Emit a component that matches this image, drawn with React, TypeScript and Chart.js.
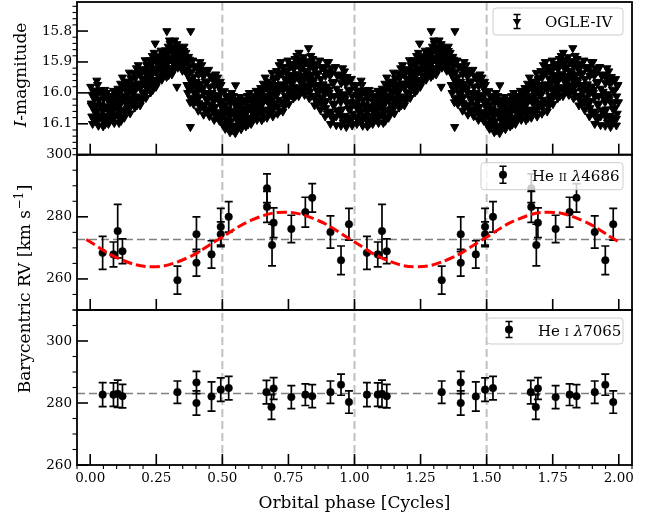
import React, { useEffect, useRef } from 'react';
import { Chart, registerables } from 'chart.js';

Chart.register(...registerables);

const FONT = '"DejaVu Serif", serif';

// ---------- axes / ticks ----------
const xMajorTicks = [0, 0.25, 0.5, 0.75, 1.0, 1.25, 1.5, 1.75, 2.0];
const magMajorTicks = [15.8, 15.9, 16.0, 16.1];
const rvMajorTicks = [260, 280, 300];
const phaseMarkers = [0.5, 1.0, 1.5];
const heiiGamma = 272.7;
const heiGamma = 283.1;

// ---------- OGLE-IV light curve (one cycle: phase, I mag) ----------
const ogleCycle: [number, number][] = [
  [.002,15.980],[.012,15.992],[.007,16.006],[.016,16.020],[.004,16.034],[.010,16.047],[.018,16.062],[.006,16.076],[.014,16.088],[.009,16.100],
  [.028,15.974],[.037,15.991],[.023,16.008],[.032,16.023],[.039,16.040],[.026,16.057],[.034,16.072],[.021,16.090],[.031,16.106],
  [.055,15.990],[.045,16.004],[.050,16.020],[.041,16.038],[.058,16.043],[.048,16.060],[.053,16.074],[.043,16.082],[.057,16.100],[.049,16.108],
  [.062,16.000],[.072,16.010],[.067,16.022],[.076,16.033],[.064,16.045],[.070,16.056],[.078,16.068],[.066,16.080],[.074,16.090],[.069,16.100],
  [.088,15.993],[.097,16.007],[.083,16.020],[.092,16.032],[.099,16.045],[.086,16.058],[.094,16.070],[.081,16.085],[.091,16.097],
  [.115,15.970],[.105,15.986],[.110,16.003],[.101,16.022],[.118,16.027],[.108,16.045],[.113,16.061],[.103,16.070],[.117,16.090],[.109,16.097],
  [.122,15.950],[.132,15.963],[.127,15.979],[.136,15.993],[.124,16.009],[.130,16.023],[.138,16.038],[.126,16.054],[.134,16.067],[.129,16.080],
  [.148,15.934],[.157,15.951],[.143,15.968],[.152,15.983],[.159,16.000],[.146,16.017],[.154,16.032],[.141,16.050],[.151,16.066],
  [.175,15.920],[.165,15.936],[.170,15.953],[.161,15.972],[.178,15.977],[.168,15.995],[.173,16.011],[.163,16.020],[.177,16.040],[.169,16.047],
  [.182,15.910],[.192,15.923],[.187,15.939],[.196,15.953],[.184,15.969],[.190,15.983],[.198,15.998],[.186,16.014],[.194,16.027],[.189,16.040],
  [.208,15.894],[.217,15.910],[.203,15.925],[.212,15.939],[.219,15.955],[.206,15.971],[.214,15.985],[.201,16.002],[.211,16.016],
  [.235,15.880],[.225,15.894],[.230,15.910],[.221,15.928],[.238,15.933],[.228,15.950],[.233,15.964],[.223,15.972],[.237,15.990],[.229,15.998],
  [.242,15.870],[.252,15.881],[.247,15.894],[.256,15.906],[.244,15.920],[.250,15.932],[.258,15.945],[.246,15.958],[.254,15.969],[.249,15.980],
  [.268,15.863],[.277,15.875],[.263,15.887],[.272,15.898],[.279,15.910],[.266,15.922],[.274,15.933],[.261,15.946],[.271,15.957],
  [.295,15.850],[.285,15.862],[.290,15.875],[.281,15.890],[.298,15.894],[.288,15.908],[.293,15.920],[.283,15.927],[.297,15.942],[.289,15.948],
  [.302,15.840],[.312,15.850],[.307,15.862],[.316,15.873],[.304,15.885],[.310,15.896],[.318,15.908],[.306,15.920],[.314,15.930],[.309,15.940],
  [.328,15.842],[.337,15.852],[.323,15.862],[.332,15.870],[.339,15.880],[.326,15.890],[.334,15.898],[.321,15.909],[.331,15.918],
  [.355,15.850],[.345,15.860],[.350,15.870],[.341,15.882],[.358,15.885],[.348,15.896],[.353,15.906],[.343,15.912],[.357,15.924],[.349,15.928],
  [.362,15.870],[.372,15.883],[.367,15.899],[.376,15.913],[.364,15.929],[.370,15.943],[.378,15.958],[.366,15.974],[.374,15.987],[.369,16.000],
  [.388,15.895],[.397,15.913],[.383,15.931],[.392,15.947],[.399,15.965],[.386,15.983],[.394,16.000],[.381,16.019],[.391,16.036],
  [.415,15.900],[.405,15.919],[.410,15.940],[.401,15.964],[.418,15.970],[.408,15.993],[.413,16.012],[.403,16.023],[.417,16.047],[.409,16.057],
  [.422,15.910],[.432,15.926],[.427,15.945],[.436,15.963],[.424,15.982],[.430,16.000],[.438,16.019],[.426,16.038],[.434,16.054],[.429,16.070],
  [.448,15.925],[.457,15.944],[.443,15.963],[.452,15.981],[.459,16.000],[.446,16.019],[.454,16.037],[.441,16.058],[.451,16.075],
  [.475,15.940],[.465,15.958],[.470,15.978],[.461,16.000],[.478,16.006],[.468,16.027],[.473,16.045],[.463,16.056],[.477,16.078],[.469,16.087],
  [.482,15.950],[.492,15.964],[.487,15.981],[.496,15.996],[.484,16.013],[.490,16.028],[.498,16.045],[.486,16.062],[.494,16.076],[.489,16.090],
  [.508,15.994],[.517,16.010],[.503,16.025],[.512,16.039],[.519,16.055],[.506,16.071],[.514,16.085],[.501,16.102],[.511,16.116],
  [.535,16.000],[.525,16.016],[.530,16.033],[.521,16.052],[.538,16.057],[.528,16.075],[.533,16.091],[.523,16.100],[.537,16.120],[.529,16.127],
  [.542,16.010],[.552,16.022],[.547,16.036],[.556,16.050],[.544,16.064],[.550,16.077],[.558,16.092],[.546,16.106],[.554,16.118],[.549,16.130],
  [.568,16.013],[.577,16.027],[.563,16.040],[.572,16.052],[.579,16.065],[.566,16.078],[.574,16.090],[.561,16.105],[.571,16.117],
  [.595,16.010],[.585,16.022],[.590,16.035],[.581,16.050],[.598,16.054],[.588,16.068],[.593,16.080],[.583,16.087],[.597,16.102],[.589,16.108],
  [.602,16.000],[.612,16.010],[.607,16.022],[.616,16.033],[.604,16.045],[.610,16.056],[.618,16.068],[.606,16.080],[.614,16.090],[.609,16.100],
  [.628,15.993],[.637,16.005],[.623,16.017],[.632,16.028],[.639,16.040],[.626,16.052],[.634,16.063],[.621,16.076],[.631,16.087],
  [.655,15.970],[.645,15.984],[.650,16.000],[.641,16.018],[.658,16.023],[.648,16.040],[.653,16.054],[.643,16.062],[.657,16.080],[.649,16.088],
  [.662,15.950],[.672,15.963],[.667,15.979],[.676,15.993],[.664,16.009],[.670,16.023],[.678,16.038],[.666,16.054],[.674,16.067],[.669,16.080],
  [.688,15.935],[.697,15.953],[.683,15.971],[.692,15.987],[.699,16.005],[.686,16.023],[.694,16.040],[.681,16.059],[.691,16.076],
  [.715,15.910],[.705,15.929],[.710,15.950],[.701,15.974],[.718,15.980],[.708,16.003],[.713,16.022],[.703,16.033],[.717,16.057],[.709,16.067],
  [.722,15.900],[.732,15.916],[.727,15.935],[.736,15.953],[.724,15.972],[.730,15.990],[.738,16.009],[.726,16.028],[.734,16.044],[.729,16.060],
  [.748,15.895],[.757,15.913],[.743,15.931],[.752,15.947],[.759,15.965],[.746,15.983],[.754,16.000],[.741,16.019],[.751,16.036],
  [.775,15.890],[.765,15.906],[.770,15.923],[.761,15.942],[.778,15.947],[.768,15.965],[.773,15.981],[.763,15.990],[.777,16.010],[.769,16.017],
  [.782,15.880],[.792,15.893],[.787,15.909],[.796,15.923],[.784,15.939],[.790,15.953],[.798,15.968],[.786,15.984],[.794,15.997],[.789,16.010],
  [.808,15.884],[.817,15.900],[.803,15.915],[.812,15.929],[.819,15.945],[.806,15.961],[.814,15.975],[.801,15.992],[.811,16.006],
  [.835,15.880],[.825,15.897],[.830,15.915],[.821,15.936],[.838,15.942],[.828,15.961],[.833,15.978],[.823,15.988],[.837,16.009],[.829,16.017],
  [.842,15.890],[.852,15.905],[.847,15.923],[.856,15.940],[.844,15.958],[.850,15.974],[.858,15.992],[.846,16.010],[.854,16.025],[.849,16.040],
  [.868,15.895],[.877,15.916],[.863,15.936],[.872,15.955],[.879,15.975],[.866,15.995],[.874,16.014],[.861,16.036],[.871,16.055],
  [.895,15.900],[.885,15.922],[.890,15.945],[.881,15.972],[.898,15.979],[.888,16.004],[.893,16.026],[.883,16.039],[.897,16.066],[.889,16.076],
  [.902,15.900],[.912,15.920],[.907,15.944],[.916,15.966],[.904,15.990],[.910,16.012],[.918,16.036],[.906,16.060],[.914,16.080],[.909,16.100],
  [.928,15.916],[.937,15.940],[.923,15.964],[.932,15.986],[.939,16.010],[.926,16.034],[.934,16.056],[.921,16.082],[.931,16.104],
  [.955,15.920],[.945,15.943],[.950,15.968],[.941,15.996],[.958,16.004],[.948,16.030],[.953,16.053],[.943,16.066],[.957,16.095],[.949,16.106],
  [.962,15.930],[.972,15.948],[.967,15.970],[.976,15.989],[.964,16.011],[.970,16.031],[.978,16.052],[.966,16.074],[.974,16.092],[.969,16.110],
  [.988,15.955],[.997,15.974],[.983,15.993],[.992,16.011],[.999,16.030],[.986,16.049],[.994,16.067],[.981,16.088],[.991,16.105],
  [.025,15.960],[.246,15.840],[.290,15.800],[.300,15.830],[.320,15.830],[.340,15.860],[.328,15.980],
  [.380,15.800],[.379,16.110],[.378,16.030],[.550,15.975],[.790,15.870],[.826,15.855],
];

// additional OGLE-IV epochs that fill the dense band
const ogleCycleFill: [number, number][] = [
  [.015,16.000],[.004,16.040],[.011,16.080],[.035,15.994],[.024,16.040],[.031,16.086],
  [.055,16.010],[.044,16.050],[.051,16.090],[.075,16.017],[.064,16.050],[.071,16.083],
  [.095,16.009],[.084,16.045],[.091,16.081],[.115,15.992],[.104,16.035],[.111,16.078],
  [.135,15.972],[.124,16.015],[.131,16.058],[.155,15.954],[.144,16.000],[.151,16.046],
  [.175,15.942],[.164,15.985],[.171,16.028],[.195,15.932],[.184,15.975],[.191,16.018],
  [.215,15.912],[.204,15.955],[.211,15.998],[.235,15.900],[.224,15.940],[.231,15.980],
  [.255,15.889],[.244,15.925],[.251,15.961],[.275,15.877],[.264,15.910],[.271,15.943],
  [.295,15.867],[.284,15.900],[.291,15.933],[.315,15.857],[.304,15.890],[.311,15.923],
  [.335,15.854],[.324,15.880],[.331,15.906],[.355,15.864],[.344,15.890],[.351,15.916],
  [.375,15.892],[.364,15.935],[.371,15.978],[.395,15.916],[.384,15.965],[.391,16.015],
  [.415,15.927],[.404,15.980],[.411,16.033],[.435,15.937],[.424,15.990],[.431,16.043],
  [.455,15.947],[.444,16.000],[.451,16.053],[.475,15.966],[.464,16.015],[.471,16.065],
  [.495,15.974],[.484,16.020],[.491,16.066],[.515,16.012],[.504,16.055],[.511,16.098],
  [.535,16.022],[.524,16.065],[.531,16.108],[.555,16.030],[.544,16.070],[.551,16.110],
  [.575,16.029],[.564,16.065],[.571,16.101],[.595,16.027],[.584,16.060],[.591,16.093],
  [.615,16.017],[.604,16.050],[.611,16.083],[.635,16.007],[.624,16.040],[.631,16.073],
  [.655,15.990],[.644,16.030],[.651,16.070],[.675,15.972],[.664,16.015],[.671,16.058],
  [.695,15.956],[.684,16.005],[.691,16.055],[.715,15.937],[.704,15.990],[.711,16.043],
  [.735,15.927],[.724,15.980],[.731,16.033],[.755,15.916],[.744,15.965],[.751,16.015],
  [.775,15.912],[.764,15.955],[.771,15.998],[.795,15.902],[.784,15.945],[.791,15.988],
  [.815,15.902],[.804,15.945],[.811,15.988],[.835,15.904],[.824,15.950],[.831,15.996],
  [.855,15.916],[.844,15.965],[.851,16.015],[.875,15.919],[.864,15.975],[.871,16.031],
  [.895,15.931],[.884,15.990],[.891,16.049],[.915,15.934],[.904,16.000],[.911,16.066],
  [.935,15.944],[.924,16.010],[.931,16.076],[.955,15.952],[.944,16.015],[.951,16.078],
  [.975,15.961],[.964,16.020],[.971,16.079],[.995,15.977],[.984,16.030],[.991,16.083],
];

// ---------- He II 4686 RVs (one cycle) ----------
const heiiPhase = [0.047,0.088,0.104,0.122,0.330,0.402,0.402,0.459,0.494,0.494,0.524,0.669,0.669,0.688,0.694,0.761,0.814,0.840,0.909,0.949,0.979];
const heiiRV    = [268.4,267.9,275.4,268.9,259.6,274.4,265.2,267.9,276.8,274.4,280.0,289.2,283.2,270.9,278.1,276.1,281.5,286.1,275.1,266.0,277.6];
const heiiErr   = [5.3,4.0,8.6,4.0,4.5,5.6,4.3,4.4,5.9,4.0,4.9,4.6,5.0,6.7,4.8,4.4,4.8,4.6,5.2,4.6,5.1];

// ---------- He I 7065 RVs (one cycle) ----------
const heiPhase = [0.047,0.088,0.104,0.122,0.330,0.402,0.402,0.459,0.494,0.524,0.667,0.686,0.694,0.761,0.814,0.840,0.909,0.949,0.979];
const heiRV    = [282.7,282.7,283.0,282.2,283.5,286.6,280.0,282.1,284.3,284.8,283.5,278.7,284.7,281.9,282.7,282.2,283.5,285.9,280.3];
const heiErr   = [3.9,3.8,4.4,3.8,3.6,3.6,3.9,4.7,3.8,3.8,3.8,4.0,3.5,3.7,3.5,3.7,3.6,3.4,3.6];

// ---------- RV model curve (He II) ----------
const modelPhase = [-0.015,0.11,0.235,0.36,0.485,0.61,0.735,0.86,0.985,1.11,1.235,1.36,1.485,1.61,1.735,1.86,1.985,2.0];
const modelRV    = [272.7,266.5,263.9,266.5,272.7,278.9,281.5,278.9,272.7,266.5,263.9,266.5,272.7,278.9,281.5,278.9,272.7,271.9];

// two cycles of each series
const twoCycles = (ph: number[], v: number[], e?: number[]) => {
  const out: { x: number; y: number; e: number }[] = [];
  [0, 1].forEach((c) => ph.forEach((p, i) => out.push({ x: p + c, y: v[i], e: e ? e[i] : 0 })));
  return out;
};
const ogleAll = [...ogleCycle, ...ogleCycleFill];
const ogleData = twoCycles(ogleAll.map((d) => d[0]), ogleAll.map((d) => d[1]));
const heiiData = twoCycles(heiiPhase, heiiRV, heiiErr);
const heiData = twoCycles(heiPhase, heiRV, heiErr);
const modelData = modelPhase.map((p, i) => ({ x: p, y: modelRV[i] }));

const fixTicks = (vals: number[]) => (axis: any) => {
  axis.ticks = vals.map((v) => ({ value: v }));
};

function drawSegs(ctx: CanvasRenderingContext2D, x: number, y: number, segs: [string, string][]) {
  let cx = x;
  segs.forEach(([t, f]) => {
    ctx.font = f;
    ctx.fillText(t, cx, y);
    cx += ctx.measureText(t).width;
  });
  return cx - x;
}
function segsWidth(ctx: CanvasRenderingContext2D, segs: [string, string][]) {
  let w = 0;
  segs.forEach(([t, f]) => { ctx.font = f; w += ctx.measureText(t).width; });
  return w;
}

function legendBox(ctx: CanvasRenderingContext2D, x: number, y: number, w: number, h: number) {
  const r = 3;
  ctx.save();
  ctx.setLineDash([]);
  ctx.beginPath();
  ctx.moveTo(x + r, y);
  ctx.lineTo(x + w - r, y);
  ctx.quadraticCurveTo(x + w, y, x + w, y + r);
  ctx.lineTo(x + w, y + h - r);
  ctx.quadraticCurveTo(x + w, y + h, x + w - r, y + h);
  ctx.lineTo(x + r, y + h);
  ctx.quadraticCurveTo(x, y + h, x, y + h - r);
  ctx.lineTo(x, y + r);
  ctx.quadraticCurveTo(x, y, x + r, y);
  ctx.closePath();
  ctx.fillStyle = 'rgba(255,255,255,0.8)';
  ctx.fill();
  ctx.strokeStyle = 'rgba(200,200,200,0.9)';
  ctx.lineWidth = 1;
  ctx.stroke();
  ctx.restore();
}

function errMarker(ctx: CanvasRenderingContext2D, x: number, y: number, half: number, cap: number) {
  ctx.beginPath();
  ctx.moveTo(x, y - half); ctx.lineTo(x, y + half);
  ctx.moveTo(x - cap, y - half); ctx.lineTo(x + cap, y - half);
  ctx.moveTo(x - cap, y + half); ctx.lineTo(x + cap, y + half);
  ctx.stroke();
}

const panels = [
  { id: 'yMag', minor: 0.02, majors: magMajorTicks },
  { id: 'yHeII', minor: 5, majors: rvMajorTicks },
  { id: 'yHeI', minor: 5, majors: rvMajorTicks },
];

const panelPlugin = {
  id: 'panelPlugin',
  beforeDatasetsDraw(chart: any) {
    const { ctx, chartArea } = chart;
    const xs = chart.scales.x;
    const L = chartArea.left, R = chartArea.right;
    panels.forEach((p) => {
      const ys = chart.scales[p.id];
      ctx.save();
      ctx.beginPath();
      ctx.rect(L, ys.top, R - L, ys.bottom - ys.top);
      ctx.clip();
      ctx.strokeStyle = '#c0c0c0';
      ctx.lineWidth = 2;
      ctx.setLineDash([8, 4]);
      phaseMarkers.forEach((v) => {
        const px = xs.getPixelForValue(v);
        ctx.beginPath(); ctx.moveTo(px, ys.bottom); ctx.lineTo(px, ys.top); ctx.stroke();
      });
      const g = p.id === 'yHeII' ? heiiGamma : p.id === 'yHeI' ? heiGamma : null;
      if (g !== null) {
        ctx.strokeStyle = '#808080';
        ctx.lineWidth = 1.5;
        ctx.setLineDash([8, 4]);
        const py = ys.getPixelForValue(g);
        ctx.beginPath(); ctx.moveTo(L, py); ctx.lineTo(R, py); ctx.stroke();
      }
      const data = p.id === 'yHeII' ? heiiData : p.id === 'yHeI' ? heiData : null;
      if (data) {
        ctx.setLineDash([]);
        ctx.strokeStyle = '#000';
        ctx.lineWidth = 1.7;
        data.forEach((d) => {
          const px = xs.getPixelForValue(d.x);
          const y1 = ys.getPixelForValue(d.y + d.e);
          const y2 = ys.getPixelForValue(d.y - d.e);
          ctx.beginPath();
          ctx.moveTo(px, y1); ctx.lineTo(px, y2);
          ctx.moveTo(px - 4, y1); ctx.lineTo(px + 4, y1);
          ctx.moveTo(px - 4, y2); ctx.lineTo(px + 4, y2);
          ctx.stroke();
        });
      }
      ctx.restore();
    });
  },
  afterDatasetsDraw(chart: any) {
    const { ctx, chartArea } = chart;
    const xs = chart.scales.x;
    const L = chartArea.left, R = chartArea.right;
    ctx.save();
    ctx.setLineDash([]);
    ctx.strokeStyle = '#000';
    panels.forEach((p, idx) => {
      const ys = chart.scales[p.id];
      const T = ys.top, B = ys.bottom;
      const lo = Math.min(ys.min, ys.max), hi = Math.max(ys.min, ys.max);
      ctx.lineWidth = 1.1;
      const start = Math.ceil(lo / p.minor - 1e-6);
      for (let k = start; k * p.minor <= hi + 1e-9; k++) {
        const v = k * p.minor;
        if (p.majors.some((m) => Math.abs(m - v) < 1e-6)) continue;
        const py = ys.getPixelForValue(v);
        ctx.beginPath(); ctx.moveTo(L - 4.5, py); ctx.lineTo(L, py); ctx.stroke();
      }
      ctx.lineWidth = 1.6;
      p.majors.forEach((v) => {
        const py = ys.getPixelForValue(v);
        ctx.beginPath(); ctx.moveTo(L, py); ctx.lineTo(L + 11, py); ctx.stroke();
      });
      xMajorTicks.forEach((v) => {
        const px = xs.getPixelForValue(v);
        ctx.beginPath(); ctx.moveTo(px, B); ctx.lineTo(px, B - 11); ctx.stroke();
      });
      if (idx === panels.length - 1) {
        ctx.lineWidth = 1.1;
        for (let k = Math.ceil(xs.min / 0.05 - 1e-6); k * 0.05 <= xs.max + 1e-9; k++) {
          const v = k * 0.05;
          if (xMajorTicks.some((m) => Math.abs(m - v) < 1e-6)) continue;
          const px = xs.getPixelForValue(v);
          ctx.beginPath(); ctx.moveTo(px, B); ctx.lineTo(px, B + 4); ctx.stroke();
        }
      }
      ctx.lineWidth = 1.8;
      ctx.strokeRect(L, T, R - L, B - T);
    });
    ctx.restore();

    const yMag = chart.scales.yMag, yII = chart.scales.yHeII, yI = chart.scales.yHeI;
    ctx.save();
    ctx.fillStyle = '#000';
    ctx.strokeStyle = '#000';
    ctx.textBaseline = 'alphabetic';
    ctx.textAlign = 'left';
    const fReg = `15px ${FONT}`;
    const fIt = `italic 15px ${FONT}`;
    const fSc = `10.5px ${FONT}`;
    legendBox(ctx, R - 139, yMag.top + 6, 130, 27);
    {
      const mx = R - 115, my = yMag.top + 19.5;
      ctx.lineWidth = 1.6;
      errMarker(ctx, mx, my, 7, 3.5);
      ctx.beginPath();
      ctx.moveTo(mx, my + 4.6); ctx.lineTo(mx - 4.2, my - 2.4); ctx.lineTo(mx + 4.2, my - 2.4); ctx.closePath();
      ctx.fill();
      drawSegs(ctx, R - 87, yMag.top + 25, [['OGLE-IV', fReg]]);
    }
    legendBox(ctx, R - 151, yII.top + 8, 142, 27);
    {
      const mx = R - 129, my = yII.top + 20;
      ctx.lineWidth = 1.6;
      errMarker(ctx, mx, my, 8.5, 3.5);
      ctx.beginPath(); ctx.arc(mx, my, 4, 0, Math.PI * 2); ctx.fill();
      drawSegs(ctx, R - 100, yII.top + 26, [['He ', fReg], ['II', fSc], [' ', fReg], ['λ', fIt], ['4686', fReg]]);
    }
    legendBox(ctx, R - 145, yI.top + 8, 136, 26);
    {
      const mx = R - 123, my = yI.top + 19.5;
      ctx.lineWidth = 1.6;
      errMarker(ctx, mx, my, 8, 3.5);
      ctx.beginPath(); ctx.arc(mx, my, 4, 0, Math.PI * 2); ctx.fill();
      drawSegs(ctx, R - 94, yI.top + 25.5, [['He ', fReg], ['I', fSc], [' ', fReg], ['λ', fIt], ['7065', fReg]]);
    }
    ctx.restore();
  },
  afterDraw(chart: any) {
    const { ctx, chartArea } = chart;
    const fLab = `17px ${FONT}`;
    const fLabIt = `italic 17px ${FONT}`;
    const fSup = `12px ${FONT}`;
    ctx.save();
    ctx.fillStyle = '#000';
    ctx.textBaseline = 'alphabetic';
    ctx.textAlign = 'left';
    const xl: [string, string][] = [['Orbital phase [Cycles]', fLab]];
    const xw = segsWidth(ctx, xl);
    drawSegs(ctx, (chartArea.left + chartArea.right) / 2 - xw / 2, 508, xl);
    const il: [string, string][] = [['I', fLabIt], ['-magnitude', fLab]];
    ctx.save();
    ctx.translate(26, 75);
    ctx.rotate(-Math.PI / 2);
    const iw = segsWidth(ctx, il);
    drawSegs(ctx, -iw / 2, 0, il);
    ctx.restore();
    ctx.save();
    ctx.translate(29.5, 289);
    ctx.rotate(-Math.PI / 2);
    const p1: [string, string][] = [['Barycentric RV [km s', fLab]];
    const sup: [string, string][] = [['−1', fSup]];
    const p2: [string, string][] = [[']', fLab]];
    const total = segsWidth(ctx, p1) + segsWidth(ctx, sup) + segsWidth(ctx, p2) + 1;
    let cx = -total / 2;
    cx += drawSegs(ctx, cx, 0, p1);
    cx += drawSegs(ctx, cx + 0.5, -7, sup) + 1;
    drawSegs(ctx, cx, 0, p2);
    ctx.restore();
    ctx.restore();
  },
};

const tickFont = { family: FONT, size: 13.5 };

export default function App() {
  const ref = useRef<HTMLCanvasElement | null>(null);
  useEffect(() => {
    if (!ref.current) return;
    const yCommon = (extra: any) => ({
      type: 'linear',
      position: 'left',
      stack: 'panels',
      grid: { display: false, drawTicks: false },
      border: { display: false },
      afterFit: (s: any) => { s.width = 77; s.paddingTop = 0; s.paddingBottom = 0; },
      ...extra,
    });
    const chart = new Chart(ref.current, {
      type: 'scatter',
      data: {
        datasets: [
          {
            type: 'line',
            label: 'model',
            data: modelData,
            xAxisID: 'x',
            yAxisID: 'yHeII',
            borderColor: '#ff0000',
            borderWidth: 3,
            borderDash: [10, 4],
            pointRadius: 0,
            tension: 0.4,
            fill: false,
            order: 0,
          } as any,
          {
            label: 'OGLE-IV',
            data: ogleData,
            xAxisID: 'x',
            yAxisID: 'yMag',
            pointStyle: 'triangle',
            rotation: 180,
            pointRadius: 4.7,
            backgroundColor: '#000',
            borderColor: '#000',
            borderWidth: 1,
            order: 1,
          },
          {
            label: 'He II 4686',
            data: heiiData,
            xAxisID: 'x',
            yAxisID: 'yHeII',
            pointStyle: 'circle',
            pointRadius: 3.8,
            backgroundColor: '#000',
            borderColor: '#000',
            borderWidth: 0.5,
            order: 1,
          },
          {
            label: 'He I 7065',
            data: heiData,
            xAxisID: 'x',
            yAxisID: 'yHeI',
            pointStyle: 'circle',
            pointRadius: 3.8,
            backgroundColor: '#000',
            borderColor: '#000',
            borderWidth: 0.5,
            order: 1,
          },
        ],
      },
      options: {
        animation: false,
        responsive: false,
        events: [],
        layout: { autoPadding: false, padding: { top: 2, right: 24, bottom: 0, left: 0 } },
        plugins: { legend: { display: false }, tooltip: { enabled: false }, title: { display: false } },
        scales: {
          x: {
            type: 'linear',
            position: 'bottom',
            min: -0.05,
            max: 2.05,
            grid: { display: false, drawTicks: false },
            border: { display: false },
            afterBuildTicks: fixTicks(xMajorTicks),
            afterFit: (s: any) => { s.height = 53; s.paddingLeft = 0; s.paddingRight = 0; },
            ticks: {
              autoSkip: false,
              maxRotation: 0,
              padding: 5,
              color: '#000',
              font: tickFont,
              callback: (v: any) => Number(v).toFixed(2),
            },
          },
          yMag: yCommon({
            weight: 3,
            stackWeight: 152.7,
            min: 15.706,
            max: 16.2,
            reverse: true,
            afterBuildTicks: fixTicks(magMajorTicks),
            ticks: { autoSkip: false, padding: 5, color: '#000', font: tickFont, callback: (v: any) => Number(v).toFixed(1) },
          }),
          yHeII: yCommon({
            weight: 2,
            stackWeight: 155.3,
            min: 250,
            max: 300,
            afterBuildTicks: fixTicks(rvMajorTicks),
            ticks: { autoSkip: false, padding: 5, color: '#000', font: tickFont, callback: (v: any) => String(Math.round(v)) },
          }),
          yHeI: yCommon({
            weight: 1,
            stackWeight: 155,
            min: 260,
            max: 310,
            afterBuildTicks: fixTicks(rvMajorTicks),
            ticks: { autoSkip: false, padding: 5, color: '#000', font: tickFont, callback: (v: any) => String(Math.round(v)) },
          }),
        } as any,
      },
      plugins: [panelPlugin],
    });
    return () => chart.destroy();
  }, []);
  return (
    <div style={{ position: 'absolute', left: 0, top: 0, width: 656, height: 518, background: '#fff' }}>
      <canvas ref={ref} width={656} height={518} style={{ display: 'block', width: 656, height: 518 }} />
    </div>
  );
}
